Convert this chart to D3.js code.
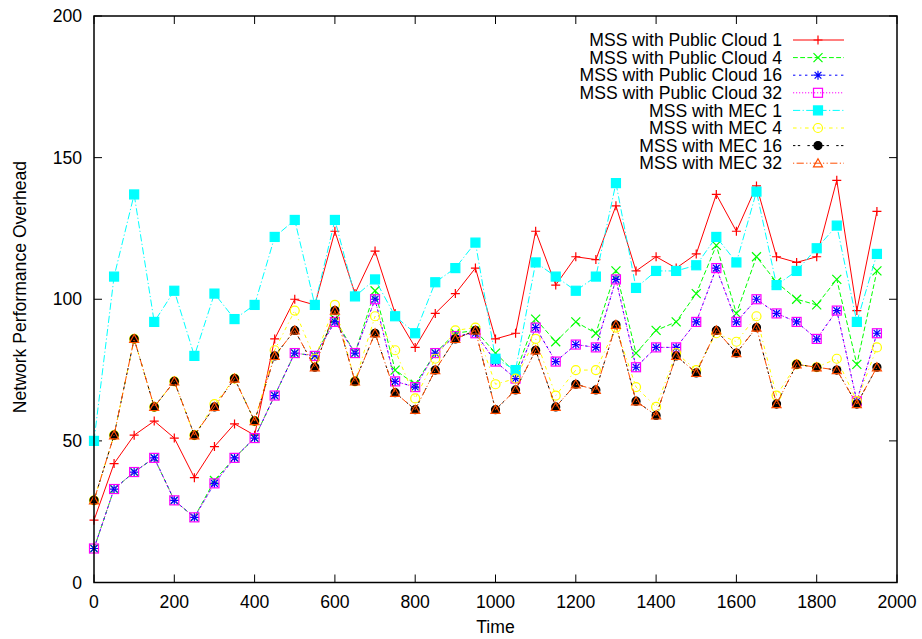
<!DOCTYPE html>
<html>
<head>
<meta charset="utf-8">
<script src="https://cdn.jsdelivr.net/npm/d3@7"></script>
<style>
  body { margin: 0; background: #fff; }
  text { font-family: "Liberation Sans", Arial, sans-serif; font-size: 17.6px; fill: #000; }
</style>
</head>
<body>
<svg width="922" height="639"></svg>
<script>
// sample times
var times = [0,50,100,150,200,250,300,350,400,450,500,550,600,650,700,750,800,850,900,950,
             1000,1050,1100,1150,1200,1250,1300,1350,1400,1450,1500,1550,1600,1650,1700,1750,1800,1850,1900,1950];

var pc1  = [22,42,52,57,51,37,48,56,52,86,100,98,124,102,117,95,83,95,102,111,86,88,124,105,115,114,133,110,115,111,116,137,124,140,115,113,115,142,96,131];
var pc4  = [12,33,39,44,29,23,36,44,51,66,81,80,93,81,103,75,70,81,88,89,81,74,93,85,92,88,110,81,89,92,102,119,95,115,106,100,98,107,77,110];
var pc16 = [12,33,39,44,29,23,35,44,51,66,81,80,92,81,100,71,69,81,87,88,78,72,90,78,84,83,107,76,83,83,92,111,92,100,95,92,86,96,64,88];
var pc32 = [12,33,39,44,29,23,35,44,51,66,81,80,92,81,100,71,69,81,87,88,78,72,90,78,84,83,107,76,83,83,92,111,92,100,95,92,86,96,64,88];
var mec1 = [50,108,137,92,103,80,102,93,98,122,128,98,128,101,107,94,88,106,111,120,79,75,113,108,103,108,141,104,110,110,112,122,113,138,105,110,118,126,92,116];
var mec4 = [29,52,86,62,71,52,63,72,57,82,96,79,98,71,94,82,65,79,89,90,70,72,86,66,75,75,90,69,62,81,75,88,85,94,66,77,76,79,64,83];
var mec16 = [29,52,86,62,71,52,62,72,57,80,89,76,96,71,88,67,61,75,86,89,61,68,82,62,70,68,91,64,59,80,74,89,81,90,63,77,76,75,63,76];
var mec32 = [29,52,86,62,71,52,62,72,57,80,89,76,96,71,88,67,61,75,86,89,61,68,82,62,70,68,91,64,59,80,74,89,81,90,63,77,76,75,63,76];

var seriesNames = ["MSS with Public Cloud 1","MSS with Public Cloud 4","MSS with Public Cloud 16","MSS with Public Cloud 32",
                   "MSS with MEC 1","MSS with MEC 4","MSS with MEC 16","MSS with MEC 32"];
var seriesValues = [pc1, pc4, pc16, pc32, mec1, mec4, mec16, mec32];

var xTicks = [0,200,400,600,800,1000,1200,1400,1600,1800,2000];
var yTicks = [0,50,100,150,200];

// gnuplot postscript-like styles
var colors = ["#ff0000","#00ff00","#0000ff","#ff00ff","#00ffff","#ffff00","#000000","#ff4d00"];
var dashes = ["", "4.8,2.4", "2.4,3.6", "1.2,1.8", "7.2,2.4,1.2,2.4", "3.6,3.6,1.2,3.6", "2.4,2.4,2.4,7.2", "1.2,2.4,7.2,2.4,1.2,2.4"];
var points = ["plus","cross","star","box","boxfill","circle","circlefill","triangle"];

var svg = d3.select("svg"),
    margin = {top: 16, right: 25, bottom: 56.5, left: 94},
    width = +svg.attr("width") - margin.left - margin.right,
    height = +svg.attr("height") - margin.top - margin.bottom,
    g = svg.append("g").attr("transform", "translate(" + margin.left + "," + margin.top + ")");

var x = d3.scaleLinear().domain([0, 2000]).range([0, width]);
var y = d3.scaleLinear().domain([0, 200]).range([height, 0]);

// ticks (inward, mirrored)
var tl = 8;
xTicks.forEach(function(t) {
  g.append("line").attr("x1", x(t)).attr("x2", x(t)).attr("y1", height).attr("y2", height - tl)
    .attr("stroke", "#000").attr("stroke-width", 1);
  g.append("line").attr("x1", x(t)).attr("x2", x(t)).attr("y1", 0).attr("y2", tl)
    .attr("stroke", "#000").attr("stroke-width", 1);
  g.append("text").attr("x", x(t)).attr("y", height + 25).attr("text-anchor", "middle").text(t);
});
yTicks.forEach(function(t) {
  g.append("line").attr("x1", 0).attr("x2", tl).attr("y1", y(t)).attr("y2", y(t))
    .attr("stroke", "#000").attr("stroke-width", 1);
  g.append("line").attr("x1", width).attr("x2", width - tl).attr("y1", y(t)).attr("y2", y(t))
    .attr("stroke", "#000").attr("stroke-width", 1);
  g.append("text").attr("x", -12).attr("y", y(t)).attr("dy", "0.35em").attr("text-anchor", "end").text(t);
});

function drawPoint(sel, type, cx, cy, color) {
  var s = 4.5;
  if (type == "plus") {
    sel.append("path").attr("d", "M" + (cx - s) + "," + cy + "H" + (cx + s) + "M" + cx + "," + (cy - s) + "V" + (cy + s))
      .attr("stroke", color).attr("stroke-width", 1.2).attr("fill", "none");
  } else if (type == "cross") {
    sel.append("path").attr("d", "M" + (cx - s) + "," + (cy - s) + "L" + (cx + s) + "," + (cy + s) + "M" + (cx - s) + "," + (cy + s) + "L" + (cx + s) + "," + (cy - s))
      .attr("stroke", color).attr("stroke-width", 1.2).attr("fill", "none");
  } else if (type == "star") {
    sel.append("path").attr("d", "M" + (cx - s) + "," + cy + "H" + (cx + s) + "M" + cx + "," + (cy - s) + "V" + (cy + s) +
        "M" + (cx - s * 0.75) + "," + (cy - s * 0.75) + "L" + (cx + s * 0.75) + "," + (cy + s * 0.75) +
        "M" + (cx - s * 0.75) + "," + (cy + s * 0.75) + "L" + (cx + s * 0.75) + "," + (cy - s * 0.75))
      .attr("stroke", color).attr("stroke-width", 1.2).attr("fill", "none");
  } else if (type == "box" || type == "boxfill") {
    sel.append("rect").attr("x", cx - s).attr("y", cy - s).attr("width", 2 * s).attr("height", 2 * s)
      .attr("fill", type == "boxfill" ? color : "none").attr("stroke", color).attr("stroke-width", 1.2);
  } else if (type == "circle" || type == "circlefill") {
    sel.append("circle").attr("cx", cx).attr("cy", cy).attr("r", type == "circlefill" ? 4 : 4.5)
      .attr("fill", type == "circlefill" ? color : "none").attr("stroke", color).attr("stroke-width", 1.2);
  } else if (type == "triangle") {
    sel.append("path").attr("d", "M" + cx + "," + (cy - s) + "L" + (cx + s) + "," + (cy + s * 0.8) + "L" + (cx - s) + "," + (cy + s * 0.8) + "Z")
      .attr("fill", "none").attr("stroke", color).attr("stroke-width", 1.2);
  }
}

var line = d3.line()
    .x(function(d) { return x(d[0]); })
    .y(function(d) { return y(d[1]); });

seriesValues.forEach(function(vals, i) {
  var data = times.map(function(t, j) { return [t, vals[j]]; });
  var sg = g.append("g");
  sg.append("path").datum(data)
    .attr("d", line)
    .attr("fill", "none")
    .attr("stroke", colors[i])
    .attr("stroke-width", 1)
    .attr("stroke-dasharray", dashes[i]);
  data.forEach(function(d) {
    drawPoint(sg, points[i], x(d[0]), y(d[1]), colors[i]);
  });
});

// border
g.append("rect").attr("x", 0).attr("y", 0).attr("width", width).attr("height", height)
  .attr("fill", "none").attr("stroke", "#000").attr("stroke-width", 1.5);

// legend
var legend = svg.append("g");
seriesNames.forEach(function(name, i) {
  var ly = 40 + i * 17.6;
  legend.append("text").attr("x", 782).attr("y", ly).attr("dy", "0.35em").attr("text-anchor", "end").text(name);
  legend.append("line").attr("x1", 793).attr("x2", 844).attr("y1", ly).attr("y2", ly)
    .attr("stroke", colors[i]).attr("stroke-width", 1).attr("stroke-dasharray", dashes[i]);
  drawPoint(legend, points[i], 818, ly, colors[i]);
});

// axis titles
svg.append("text").attr("x", margin.left + width / 2).attr("y", 633).attr("text-anchor", "middle").text("Time");
svg.append("text").attr("transform", "translate(26,287) rotate(-90)")
  .attr("text-anchor", "middle").text("Network Performance Overhead");
</script>
</body>
</html>
